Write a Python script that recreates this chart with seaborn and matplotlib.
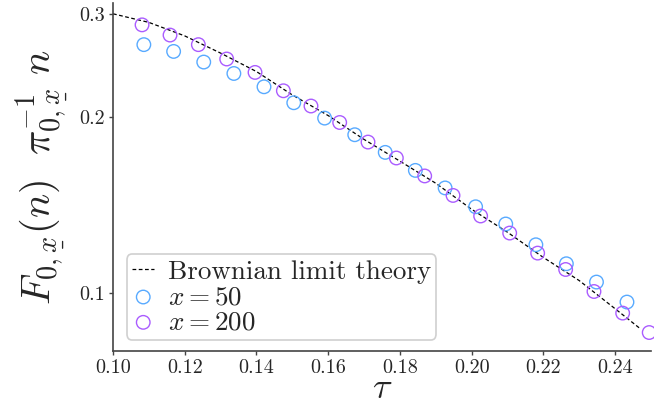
import numpy as np
import matplotlib
matplotlib.use("Agg")
import matplotlib.pyplot as plt
import seaborn as sns
from matplotlib.ticker import FixedLocator, FixedFormatter, NullLocator

# ---- data ----
theory_tau = [0.100, 0.110, 0.120, 0.130, 0.140, 0.150, 0.160, 0.170, 0.180,
              0.190, 0.200, 0.210, 0.220, 0.230, 0.240, 0.2467]
theory_val = [0.300, 0.290, 0.275, 0.257, 0.239, 0.218, 0.201, 0.183, 0.168,
              0.154, 0.139, 0.127, 0.115, 0.105, 0.094, 0.0872]

tau_50 = [0.1086, 0.1169, 0.1253, 0.1337, 0.1421, 0.1504, 0.1590, 0.1674, 0.1759,
          0.1843, 0.1926, 0.2011, 0.2095, 0.2179, 0.2264, 0.2348, 0.2433]
val_50 = [0.2657, 0.2587, 0.2481, 0.2372, 0.2251, 0.2114, 0.1990, 0.1864, 0.1739,
          0.1620, 0.1512, 0.1404, 0.1312, 0.1209, 0.1122, 0.1044, 0.0965]

tau_200 = [0.1081, 0.1159, 0.1238, 0.1317, 0.1396, 0.1475, 0.1552, 0.1632, 0.1711,
           0.1790, 0.1869, 0.1948, 0.2025, 0.2106, 0.2184, 0.2262, 0.2341, 0.2421, 0.2495]
val_200 = [0.2872, 0.2759, 0.2657, 0.2511, 0.2382, 0.2216, 0.2087, 0.1956, 0.1811,
           0.1701, 0.1585, 0.1468, 0.1354, 0.1266, 0.1170, 0.1097, 0.1006, 0.0924, 0.0856]

x_ticks = [0.10, 0.12, 0.14, 0.16, 0.18, 0.20, 0.22, 0.24]
x_tick_labels = ["0.10", "0.12", "0.14", "0.16", "0.18", "0.20", "0.22", "0.24"]
y_ticks = [0.1, 0.2, 0.3]
y_tick_labels = ["0.1", "0.2", "0.3"]

labels = ["Brownian limit theory", r"$x = 50$", r"$x = 200$"]
colors = ["#58aaff", "#aa5cff"]

# ---- style ----
sns.set_style("ticks")
plt.rcParams["font.family"] = ["serif"]
plt.rcParams["font.serif"] = ["cmr10", "DejaVu Serif"]
plt.rcParams["mathtext.fontset"] = "cm"
plt.rcParams["axes.formatter.use_mathtext"] = True

fig = plt.figure(figsize=(6.54, 4.11), dpi=100)
ax = fig.add_axes([113 / 654, 1 - 351 / 411, 538 / 654, 348 / 411])

sns.lineplot(x=theory_tau, y=theory_val, ax=ax, color="black", lw=0.9,
             linestyle=(0, (3, 2)), label=labels[0])
sns.scatterplot(x=tau_50, y=val_50, ax=ax, s=95, color=colors[0],
                facecolor="none", edgecolor=colors[0], linewidth=1.0,
                label=labels[1], clip_on=False, zorder=3)
sns.scatterplot(x=tau_200, y=val_200, ax=ax, s=95, color=colors[1],
                facecolor="none", edgecolor=colors[1], linewidth=1.0,
                label=labels[2], clip_on=False, zorder=3)

ax.set_yscale("log")
ax.set_xlim(0.10, 0.25)
ax.set_ylim(0.0796, 0.313)
ax.xaxis.set_major_locator(FixedLocator(x_ticks))
ax.xaxis.set_major_formatter(FixedFormatter(x_tick_labels))
ax.yaxis.set_major_locator(FixedLocator(y_ticks))
ax.yaxis.set_major_formatter(FixedFormatter(y_tick_labels))
ax.yaxis.set_minor_locator(NullLocator())
ax.xaxis.set_minor_locator(NullLocator())

sns.despine(ax=ax)
for sp in ["left", "bottom"]:
    ax.spines[sp].set_color("#444444")
    ax.spines[sp].set_linewidth(1.2)
ax.tick_params(axis="both", labelsize=14.5, length=3, width=1, color="#444444",
               pad=3)

ax.set_xlabel(r"$\tau$", fontsize=26, labelpad=-3)
ax.set_ylabel(r"$F_{0,\underset{\_}{x}}(n)\ \ \pi_{0,\underset{\_}{x}}^{-1}\ n$",
              fontsize=29, labelpad=5)

leg = ax.legend(loc="lower left", bbox_to_anchor=(0.026, 0.032), borderaxespad=0,
                fontsize=19.5, handlelength=0.8, handletextpad=0.5,
                labelspacing=0.05, borderpad=0.2, frameon=True, fancybox=True,
                framealpha=1, edgecolor="#d0d0d0")
leg.get_frame().set_linewidth(1.2)

fig.savefig("out.png", dpi=100)
